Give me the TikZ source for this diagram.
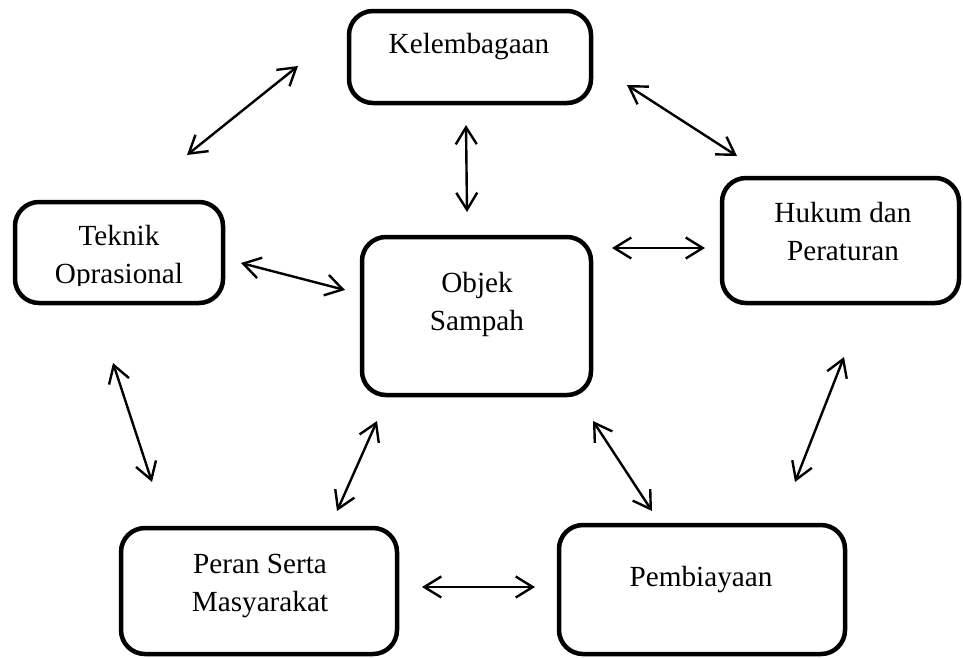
\documentclass[tikz,border=0pt]{standalone}
\usepackage{fontspec}
\setmainfont{Liberation Serif}
\usetikzlibrary{arrows.meta}
\tikzset{
  boxnode/.style={draw=black, line width=4.5pt, rounded corners=24pt, inner sep=0pt, outer sep=0pt},
  labelnode/.style={anchor=base, inner sep=0pt, font=\fontsize{29.2}{38}\selectfont},
  biarrow/.style={draw=black, line width=2.4pt, {Straight Barb[length=17pt,width=21pt]}-{Straight Barb[length=17pt,width=21pt]}}
}
\newcommand{\twolines}[2]{\setlength{\tabcolsep}{0pt}\begin{tabular}[t]{c}#1\\#2\end{tabular}}
\begin{document}
\begin{tikzpicture}[x=1pt,y=-1pt]
\useasboundingbox[fill=white] (0,0) rectangle (963,657);
% boxes
\node[boxnode, minimum width=242pt, minimum height=92pt]  (kel) at (470,57) {};
\node[boxnode, minimum width=208pt, minimum height=101pt] (tek) at (119,252.5) {};
\node[boxnode, minimum width=229pt, minimum height=158pt] (obj) at (476.5,316) {};
\node[boxnode, minimum width=237pt, minimum height=125pt] (huk) at (840.5,240.5) {};
\node[boxnode, minimum width=276pt, minimum height=126pt] (per) at (259,591) {};
\node[boxnode, minimum width=286pt, minimum height=129pt] (pem) at (702,589.5) {};
% texts
\node[labelnode] (kelT) at (469,53) {Kelembagaan};
\begin{scope}
\clip (0,0) rectangle (963,285.5);
\node[labelnode] (tekT) at (119,245) {\twolines{Teknik}{Oprasional}};
\end{scope}
\node[labelnode] (objT) at (477,292) {\twolines{Objek}{Sampah}};
\node[labelnode] (hukT) at (843,222) {\twolines{Hukum dan}{Peraturan}};
\node[labelnode] (perT) at (260,573) {\twolines{Peran Serta}{Masyarakat}};
\node[labelnode] (pemT) at (701,586) {Pembiayaan};
% arrow end points
\coordinate (kelTekA) at (298,66);  \coordinate (kelTekB) at (187,155);
\coordinate (kelObjA) at (466,125); \coordinate (kelObjB) at (467,212);
\coordinate (kelHukA) at (627,85);  \coordinate (kelHukB) at (737,156);
\coordinate (tekObjA) at (241,263); \coordinate (tekObjB) at (345,290);
\coordinate (objHukA) at (612,248); \coordinate (objHukB) at (705,248);
\coordinate (tekPerA) at (113,363); \coordinate (tekPerB) at (152,482);
\coordinate (objPerA) at (377,421); \coordinate (objPerB) at (337,511);
\coordinate (objPemA) at (593,421); \coordinate (objPemB) at (652,511);
\coordinate (hukPemA) at (844,357); \coordinate (hukPemB) at (795,482);
\coordinate (perPemA) at (422,587); \coordinate (perPemB) at (535,587);
% arrows
\draw[biarrow] (kelTekA) -- (kelTekB);
\draw[biarrow] (kelObjA) -- (kelObjB);
\draw[biarrow] (kelHukA) -- (kelHukB);
\draw[biarrow] (tekObjA) -- (tekObjB);
\draw[biarrow] (objHukA) -- (objHukB);
\draw[biarrow] (tekPerA) -- (tekPerB);
\draw[biarrow] (objPerA) -- (objPerB);
\draw[biarrow] (objPemA) -- (objPemB);
\draw[biarrow] (hukPemA) -- (hukPemB);
\draw[biarrow] (perPemA) -- (perPemB);
\end{tikzpicture}
\end{document}
